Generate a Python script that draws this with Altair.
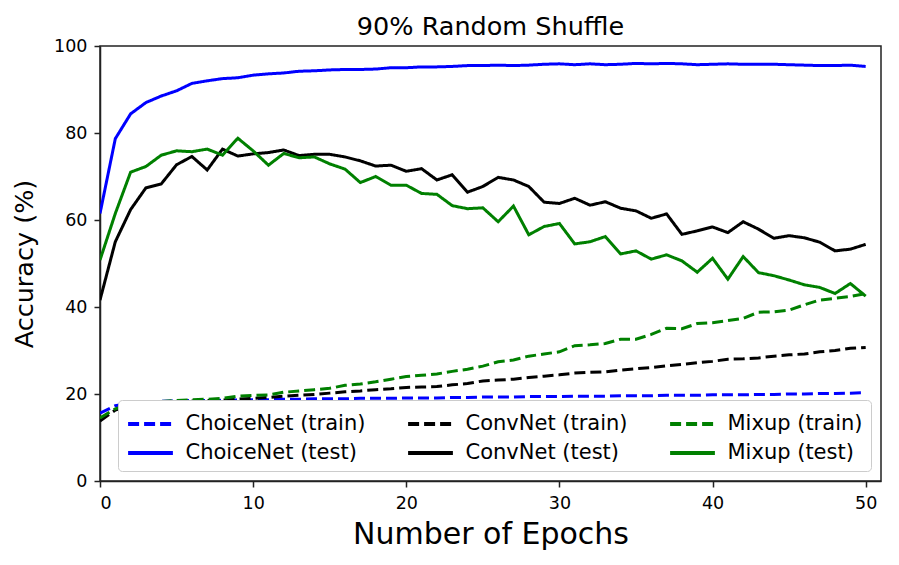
import altair as alt
import pandas as pd

epochs = list(range(51))

choicenet_test = [61.5, 78.7, 84.4, 87.0, 88.5, 89.7, 91.4, 92.0, 92.5, 92.7, 93.3, 93.6, 93.8, 94.2, 94.3,
                  94.5, 94.6, 94.6, 94.7, 95.0, 95.0, 95.2, 95.2, 95.3, 95.5, 95.5, 95.6, 95.5, 95.6, 95.8,
                  95.9, 95.7, 95.9, 95.7, 95.8, 96.0, 95.9, 96.0, 95.9, 95.7, 95.8, 95.9, 95.8, 95.8, 95.8,
                  95.7, 95.6, 95.5, 95.5, 95.6, 95.3]
convnet_test = [41.6, 55.0, 62.4, 67.4, 68.3, 72.7, 74.6, 71.5, 76.3, 74.7, 75.2, 75.5, 76.1, 74.8, 75.1,
                75.1, 74.5, 73.6, 72.4, 72.6, 71.2, 71.8, 69.2, 70.4, 66.4, 67.7, 69.8, 69.2, 67.7, 64.1,
                63.8, 65.0, 63.4, 64.2, 62.7, 62.1, 60.4, 61.4, 56.7, 57.5, 58.4, 57.1, 59.6, 57.9, 55.8,
                56.4, 55.9, 54.9, 52.9, 53.3, 54.4]
mixup_test = [50.8, 61.5, 71.0, 72.3, 74.9, 75.9, 75.7, 76.3, 74.9, 78.8, 75.9, 72.6, 75.3, 74.3, 74.5,
              72.9, 71.7, 68.6, 70.0, 68.0, 68.0, 66.1, 65.9, 63.3, 62.6, 62.8, 59.6, 63.2, 56.6, 58.5,
              59.2, 54.5, 55.0, 56.2, 52.2, 52.9, 51.0, 52.0, 50.6, 48.0, 51.2, 46.4, 51.6, 47.9, 47.2,
              46.2, 45.1, 44.5, 43.1, 45.4, 42.5]
choicenet_train = [15.6, 17.3, 17.9, 18.2, 18.3, 18.4, 18.5, 18.5, 18.6, 18.6, 18.7, 18.7, 18.8, 18.8, 18.9,
                   18.9, 18.9, 19.0, 19.0, 19.0, 19.1, 19.1, 19.1, 19.2, 19.2, 19.3, 19.3, 19.3, 19.4, 19.4,
                   19.4, 19.5, 19.5, 19.5, 19.6, 19.6, 19.6, 19.7, 19.7, 19.7, 19.8, 19.8, 19.8, 19.9, 19.9,
                   20.0, 20.0, 20.1, 20.1, 20.2, 20.3]
convnet_train = [13.8, 16.3, 17.4, 17.9, 18.1, 18.3, 18.4, 18.5, 18.6, 18.8, 19.0, 19.2, 19.5, 19.7, 19.9,
                 20.2, 20.5, 20.7, 21.0, 21.2, 21.5, 21.6, 21.7, 22.1, 22.4, 23.0, 23.2, 23.4, 23.8, 24.1,
                 24.4, 24.8, 25.0, 25.1, 25.5, 25.8, 26.1, 26.5, 26.8, 27.2, 27.5, 28.0, 28.1, 28.3, 28.7,
                 29.0, 29.2, 29.7, 30.0, 30.5, 30.7]
mixup_train = [14.5, 16.6, 17.6, 18.0, 18.3, 18.5, 18.7, 18.8, 19.0, 19.5, 19.7, 19.8, 20.4, 20.7, 21.0,
               21.3, 22.0, 22.3, 22.8, 23.4, 24.0, 24.3, 24.6, 25.2, 25.7, 26.4, 27.4, 27.8, 28.7, 29.2,
               29.7, 31.1, 31.3, 31.6, 32.6, 32.6, 33.7, 35.1, 35.0, 36.2, 36.4, 36.9, 37.4, 38.8, 38.9,
               39.3, 40.5, 41.6, 42.0, 42.4, 43.1]

# column-major legend order (2 rows x 3 columns)
series_order = ["ChoiceNet (train)", "ChoiceNet (test)", "ConvNet (train)",
                "ConvNet (test)", "Mixup (train)", "Mixup (test)"]
series_values = [choicenet_train, choicenet_test, convnet_train,
                 convnet_test, mixup_train, mixup_test]
series_colors = ["#0000ff", "#0000ff", "#000000", "#000000", "#008000", "#008000"]
series_dashes = [[11, 5], [1, 0], [11, 5], [1, 0], [11, 5], [1, 0]]

rows = []
for name, vals in zip(series_order, series_values):
    for e, v in zip(epochs, vals):
        rows.append({"epoch": e, "acc": v, "series": name})
df = pd.DataFrame(rows)

FONT = "DejaVu Sans"

legend = alt.Legend(
    title=None, orient="none", legendX=18, legendY=354, columns=3,
    symbolType="M-1.6,0H1.6", symbolSize=784, symbolStrokeWidth=4, symbolOffset=8.5,
    labelFont=FONT, labelFontSize=21, labelColor="black", labelLimit=0,
    labelOffset=19, columnPadding=34, rowPadding=3,
    fillColor="white", strokeColor="#cccccc", padding=8, cornerRadius=4,
)

chart = alt.Chart(df).mark_line(strokeWidth=3, clip=True).encode(
    x=alt.X("epoch:Q",
            scale=alt.Scale(domain=[0, 51], nice=False, zero=False),
            axis=alt.Axis(values=[0, 10, 20, 30, 40, 50], title="Number of Epochs",
                          titleFontSize=30, titleFontWeight="normal", titlePadding=8)),
    y=alt.Y("acc:Q",
            scale=alt.Scale(domain=[0, 100], nice=False),
            axis=alt.Axis(values=[0, 20, 40, 60, 80, 100], title="Accuracy (%)",
                          titleFontSize=25.5, titleFontWeight="normal", titlePadding=16)),
    color=alt.Color("series:N", scale=alt.Scale(domain=series_order, range=series_colors),
                    legend=legend),
    strokeDash=alt.StrokeDash("series:N", scale=alt.Scale(domain=series_order, range=series_dashes),
                              legend=legend),
).properties(
    width=781, height=435,
    title=alt.Title("90% Random Shuffle", fontSize=25.5, fontWeight="normal", font=FONT,
                    color="black", offset=-3),
    autosize=alt.AutoSizeParams(type="none"),
    padding={"left": 92, "top": 38, "right": 10, "bottom": 76},
).configure_axis(
    grid=False, domainColor="#222222", tickColor="#222222", tickSize=6, tickWidth=1.5,
    labelColor="black", labelFont=FONT, labelFontSize=17.5, titleFont=FONT, titleColor="black",
    domainWidth=1.5, labelPadding=7,
).configure_view(
    stroke="#222222", strokeWidth=1.5,
)

chart.save("out.html", embed_options={"renderer": "svg", "actions": False})
